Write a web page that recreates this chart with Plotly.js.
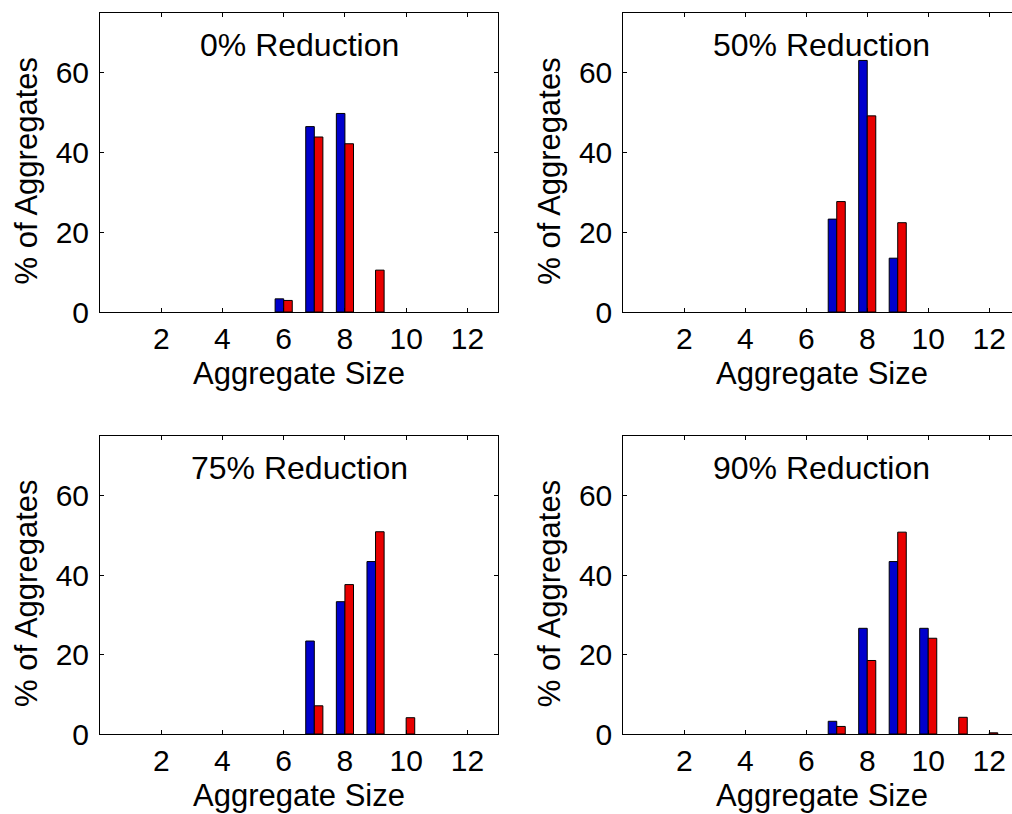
<!DOCTYPE html>
<html>
<head>
<meta charset="utf-8">
<script src="https://cdn.plot.ly/plotly-3.0.1.min.js"></script>
<style>
html, body { margin: 0; padding: 0; overflow: hidden; background: #fff; width: 1012px; height: 814px; }
#chart { width: 1022px; height: 814px; }
</style>
</head>
<body>
<div id="chart"></div>
<script>
// ---- data ----
const sizes = [1, 2, 3, 4, 5, 6, 7, 8, 9, 10, 11, 12];
const xTicks = [2, 4, 6, 8, 10, 12];
const yTicks = [0, 20, 40, 60];
const panelTitles = ["0% Reduction", "50% Reduction", "75% Reduction", "90% Reduction"];
const blue0  = [0, 0, 0, 0, 0, 3.3, 46.5, 49.8, 0, 0, 0, 0];
const red0   = [0, 0, 0, 0, 0, 2.9, 43.9, 42.2, 10.5, 0, 0, 0];
const blue50 = [0, 0, 0, 0, 0, 0, 23.3, 63.1, 13.5, 0, 0, 0];
const red50  = [0, 0, 0, 0, 0, 0, 27.7, 49.2, 22.4, 0, 0, 0];
const blue75 = [0, 0, 0, 0, 0, 0, 23.4, 33.3, 43.4, 0, 0, 0];
const red75  = [0, 0, 0, 0, 0, 0, 7.1, 37.6, 50.9, 4.1, 0, 0];
const blue90 = [0, 0, 0, 0, 0, 0, 3.2, 26.6, 43.4, 26.6, 0, 0];
const red90  = [0, 0, 0, 0, 0, 0, 1.9, 18.5, 50.8, 24.1, 4.2, 0.3];
const xLabel = "Aggregate Size";
const yLabel = "% of Aggregates";

// ---- layout helpers ----
const W = 1022, H = 814;
const BLUE = "#0000cc", RED = "#e80000";
const FONT = '"Liberation Sans", Arial, Helvetica, sans-serif';
const colsPx = [[100, 498], [623.3, 1019.7]];
const rowsPx = [[13, 312], [436, 734]];
const px2x = p => p / W;
const px2y = p => 1 - p / H;

const blues = [blue0, blue50, blue75, blue90];
const reds = [red0, red50, red75, red90];

const data = [];
const layout = {
  width: W, height: H,
  margin: {l: 0, r: 0, t: 0, b: 0},
  paper_bgcolor: "#fff", plot_bgcolor: "#fff",
  showlegend: false,
  barmode: "group", bargap: 0.44, bargroupgap: 0,
  font: {family: FONT, color: "#000", size: 30},
  annotations: []
};

for (let i = 0; i < 4; i++) {
  const r = Math.floor(i / 2), c = i % 2;
  const sfx = i === 0 ? "" : String(i + 1);
  const xa = "x" + sfx, ya = "y" + sfx;
  data.push({type: "bar", x: sizes, y: blues[i], xaxis: xa, yaxis: ya,
    marker: {color: BLUE, line: {color: "#000", width: blues[i].map(v => v > 0 ? 1 : 0)}}, hoverinfo: "skip"});
  data.push({type: "bar", x: sizes, y: reds[i], xaxis: xa, yaxis: ya,
    marker: {color: RED, line: {color: "#000", width: reds[i].map(v => v > 0 ? 1 : 0)}}, hoverinfo: "skip"});
  layout["xaxis" + sfx] = {
    domain: [px2x(colsPx[c][0]), px2x(colsPx[c][1])],
    anchor: ya, range: [0, 13], tickvals: xTicks, ticktext: xTicks.map(String),
    ticks: "inside", ticklen: 4, tickcolor: "#000", showline: true, linecolor: "#000",
    linewidth: 1, mirror: "ticks", showgrid: false, zeroline: false,
    tickfont: {size: 30, family: FONT, color: "#000"}, fixedrange: true
  };
  layout["yaxis" + sfx] = {
    domain: [px2y(rowsPx[r][1]), px2y(rowsPx[r][0])],
    anchor: xa, range: [0, 75], tickvals: yTicks, ticktext: yTicks.map(String),
    ticks: "inside", ticklen: 4, tickcolor: "#000", showline: true, linecolor: "#000",
    linewidth: 1, mirror: "ticks", showgrid: false, zeroline: false,
    ticklabelstandoff: 4,
    tickfont: {size: 30, family: FONT, color: "#000"}, fixedrange: true
  };
  const cx = px2x((colsPx[c][0] + colsPx[c][1]) / 2);
  // panel title inside the axes
  layout.annotations.push({text: panelTitles[i], xref: "paper", yref: "paper",
    x: cx, y: px2y(rowsPx[r][0] + 32), xanchor: "center", yanchor: "middle",
    showarrow: false, font: {size: 32, family: FONT, color: "#000"}});
  // x axis title
  layout.annotations.push({text: xLabel, xref: "paper", yref: "paper",
    x: cx, y: px2y(rowsPx[r][1] + 61), xanchor: "center", yanchor: "middle",
    showarrow: false, font: {size: 31, family: FONT, color: "#000"}});
  // y axis title
  layout.annotations.push({text: yLabel, xref: "paper", yref: "paper",
    x: px2x(colsPx[c][0] - 74), y: px2y((rowsPx[r][0] + rowsPx[r][1]) / 2 + 8),
    xanchor: "center", yanchor: "middle", textangle: -90,
    showarrow: false, font: {size: 31, family: FONT, color: "#000"}});
}

Plotly.newPlot("chart", data, layout, {displayModeBar: false, staticPlot: true});
</script>
</body>
</html>
